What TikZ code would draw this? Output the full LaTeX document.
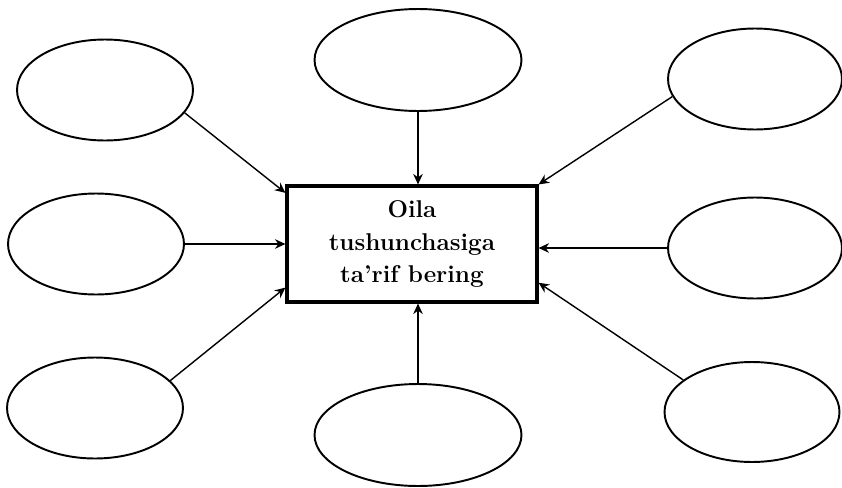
\documentclass[tikz,border=0pt]{standalone}
\usetikzlibrary{shapes.geometric, arrows.meta}
\begin{document}
\begin{tikzpicture}[x=0.02cm, y=-0.02cm,
  bubble/.style = {draw, ellipse, line width=1.1pt, inner sep=0pt,
                   minimum width=3.52cm, minimum height=2.02cm},
  widebubble/.style = {bubble, minimum width=4.14cm, minimum height=2.04cm},
  topic/.style = {draw, line width=1.8pt, inner sep=0pt,
                  minimum width=5.0cm, minimum height=2.32cm,
                  align=center, font=\fontsize{13.8}{18.4}\selectfont\bfseries},
  feed/.style = {-{Stealth[length=6pt, width=5.5pt, inset=2pt]}, line width=0.8pt},
]
\useasboundingbox (0,0) rectangle (842,487);

%% ── Central question ─────────────────────────────────────────────────────────
\node[topic] (box) at (412,244) {Oila\\tushunchasiga\\ta'rif bering};

%% ── Left bubbles ─────────────────────────────────────────────────────────────
\node[bubble] (tl) at (105,90) {};
\node[bubble] (ml) at (96,244) {};
\node[bubble] (bl) at (95,408) {};

%% ── Top and bottom bubbles ───────────────────────────────────────────────────
\node[widebubble] (tc) at (418,60) {};
\node[widebubble] (bc) at (418,435) {};

%% ── Right bubbles ────────────────────────────────────────────────────────────
\node[bubble, minimum width=3.48cm] (tr) at (755,79) {};
\node[bubble, minimum width=3.48cm] (mr) at (755,248) {};
\node[bubble, minimum width=3.5cm, minimum height=2.0cm] (br) at (752,412) {};

%% ── Arrows into the box ──────────────────────────────────────────────────────
\draw[feed] (tl.-16) -- (box.158);
\draw[feed] (ml.east) -- (box.west);
\draw[feed] (bl.20) -- (box.199);
\draw[feed] (tc.south) -- (tc.south |- box.north);
\draw[feed] (bc.north) -- (bc.north |- box.south);
\draw[feed] (tr.192) -- (box.north east);
\draw[feed] (mr.west) -- (mr.west -| box.east);
\draw[feed] (br.155) -- (box.-17);

\end{tikzpicture}
\end{document}
